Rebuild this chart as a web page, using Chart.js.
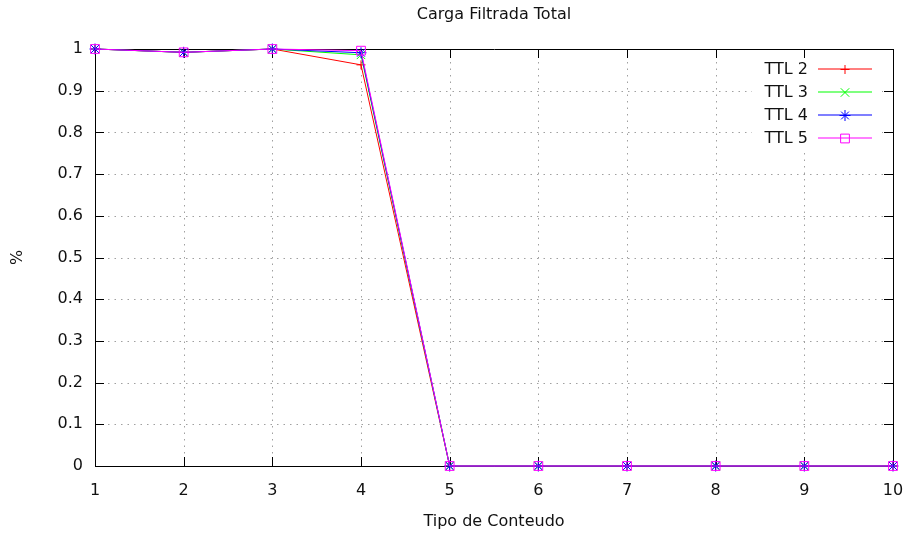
<!DOCTYPE html>
<html>
<head>
<meta charset="utf-8">
<script src="https://cdn.jsdelivr.net/npm/chart.js@4.4.0/dist/chart.umd.min.js"></script>
<style>
html,body{margin:0;padding:0;background:#fff;}
#wrap{width:907px;height:535px;position:relative;}
</style>
</head>
<body>
<div id="wrap"><canvas id="c" width="907" height="535"></canvas></div>
<script>
const categories = [1, 2, 3, 4, 5, 6, 7, 8, 9, 10];
const ttl2 = [1, 0.992, 1, 0.962, 0, 0, 0, 0, 0, 0];
const ttl3 = [1, 0.992, 1, 0.986, 0, 0, 0, 0, 0, 0];
const ttl4 = [1, 0.992, 1, 0.991, 0, 0, 0, 0, 0, 0];
const ttl5 = [1, 0.992, 1, 0.996, 0, 0, 0, 0, 0, 0];
const seriesNames = ['TTL 2', 'TTL 3', 'TTL 4', 'TTL 5'];
const yTicks = [0, 0.1, 0.2, 0.3, 0.4, 0.5, 0.6, 0.7, 0.8, 0.9, 1];
const xTicks = [1, 2, 3, 4, 5, 6, 7, 8, 9, 10];
const titleText = 'Carga Filtrada Total';
const xTitle = 'Tipo de Conteudo';
const yTitle = '%';

const FONT = '"DejaVu Sans", sans-serif';
const toPts = arr => arr.map((v, i) => ({x: categories[i], y: v}));

const styles = [
  {color: '#ff0000', pointStyle: 'cross', radius: 4.5},
  {color: '#00ff00', pointStyle: 'crossRot', radius: 6},
  {color: '#0000ff', pointStyle: 'star', radius: 5.5},
  {color: '#ff00ff', pointStyle: 'rect', radius: 6.2}
];
const allSeries = [ttl2, ttl3, ttl4, ttl5];

const datasets = allSeries.map((s, i) => ({
  label: seriesNames[i],
  data: toPts(s),
  borderColor: styles[i].color,
  backgroundColor: 'rgba(0,0,0,0)',
  borderWidth: 1,
  pointStyle: styles[i].pointStyle,
  pointRadius: styles[i].radius,
  pointHoverRadius: styles[i].radius,
  pointBorderWidth: 1,
  pointBorderColor: styles[i].color,
  pointBackgroundColor: 'rgba(0,0,0,0)',
  tension: 0,
  clip: false,
  order: 4 - i
}));

const framePlugin = {
  id: 'frame',
  beforeDatasetsDraw(chart) {
    const ctx = chart.ctx;
    const a = chart.chartArea;
    const xs = chart.scales.x, ys = chart.scales.y;
    ctx.save();
    // dotted grid
    ctx.strokeStyle = '#a0a0a0';
    ctx.lineWidth = 1;
    ctx.setLineDash([1.5, 5]);
    yTicks.forEach(v => {
      if (v === 0 || v === 1) return;
      const y = Math.round(ys.getPixelForValue(v)) + 0.5;
      ctx.beginPath(); ctx.moveTo(a.left, y); ctx.lineTo(a.right, y); ctx.stroke();
    });
    xTicks.forEach(v => {
      if (v === 1 || v === 10) return;
      const x = Math.round(xs.getPixelForValue(v)) + 0.5;
      ctx.beginPath(); ctx.moveTo(x, a.top); ctx.lineTo(x, a.bottom); ctx.stroke();
    });
    ctx.setLineDash([]);
    // white key box (grid hidden behind legend)
    ctx.fillStyle = '#fff';
    ctx.fillRect(752, 59, 130, 91);
    // ticks (inward, mirrored)
    ctx.strokeStyle = '#000';
    const tl = 9;
    yTicks.forEach(v => {
      const y = Math.round(ys.getPixelForValue(v)) + 0.5;
      ctx.beginPath();
      ctx.moveTo(a.left, y); ctx.lineTo(a.left + tl, y);
      ctx.moveTo(a.right, y); ctx.lineTo(a.right - tl, y);
      ctx.stroke();
    });
    xTicks.forEach(v => {
      const x = Math.round(xs.getPixelForValue(v)) + 0.5;
      ctx.beginPath();
      ctx.moveTo(x, a.bottom); ctx.lineTo(x, a.bottom - tl);
      ctx.moveTo(x, a.top); ctx.lineTo(x, a.top + tl);
      ctx.stroke();
    });
    // border
    ctx.beginPath();
    ctx.rect(Math.round(a.left) + 0.5, Math.round(a.top) + 0.5,
             Math.round(a.right - a.left), Math.round(a.bottom - a.top));
    ctx.stroke();
    ctx.restore();
  },
  afterDraw(chart) {
    const ctx = chart.ctx;
    const a = chart.chartArea;
    ctx.save();
    ctx.fillStyle = '#111';
    ctx.font = '16px ' + FONT;
    ctx.textAlign = 'center';
    ctx.textBaseline = 'middle';
    ctx.fillText(titleText, (a.left + a.right) / 2, 15);
    ctx.fillText(xTitle, (a.left + a.right) / 2, 522);
    ctx.save();
    ctx.translate(18, (a.top + a.bottom) / 2);
    ctx.rotate(-Math.PI / 2);
    ctx.fillText(yTitle, 0, 0);
    ctx.restore();
    // legend
    const textRight = 808, lineL = 818, lineR = 872, y0 = 69, dy = 23;
    chart.data.datasets.forEach((ds, i) => {
      const y = y0 + i * dy;
      ctx.fillStyle = '#111';
      ctx.textAlign = 'right';
      ctx.textBaseline = 'middle';
      ctx.font = '16px ' + FONT;
      ctx.fillText(ds.label, textRight, y + 1);
      ctx.strokeStyle = ds.borderColor;
      ctx.lineWidth = 1.2;
      ctx.beginPath();
      ctx.moveTo(lineL, y); ctx.lineTo(lineR, y);
      ctx.stroke();
      ctx.lineWidth = 1;
      ctx.fillStyle = 'rgba(0,0,0,0)';
      Chart.helpers.drawPoint(ctx, {
        pointStyle: ds.pointStyle, radius: ds.pointRadius, borderWidth: 1, rotation: 0
      }, (lineL + lineR) / 2, y + 0.5);
    });
    ctx.restore();
  }
};

new Chart(document.getElementById('c'), {
  type: 'line',
  data: {datasets},
  options: {
    responsive: false,
    animation: false,
    events: [],
    layout: {padding: {left: 0, right: 14, top: 49, bottom: 0}},
    plugins: {legend: {display: false}, title: {display: false}, tooltip: {enabled: false}},
    scales: {
      x: {
        type: 'linear',
        min: 1, max: 10,
        afterFit(s) { s.height = 69; s.paddingLeft = 0; s.paddingRight = 0; },
        afterBuildTicks(s) { s.ticks = xTicks.map(v => ({value: v})); },
        grid: {display: false, drawTicks: false},
        border: {display: false},
        ticks: {color: '#111', font: {family: FONT, size: 16}, padding: 15, maxRotation: 0, autoSkip: false,
                callback: v => String(v)}
      },
      y: {
        type: 'linear',
        min: 0, max: 1,
        afterFit(s) { s.width = 95; s.paddingTop = 0; s.paddingBottom = 0; },
        afterBuildTicks(s) { s.ticks = yTicks.map(v => ({value: v})); },
        grid: {display: false, drawTicks: false},
        border: {display: false},
        ticks: {color: '#111', font: {family: FONT, size: 16}, padding: 12, autoSkip: false,
                callback: v => String(Math.round(v * 10) / 10)}
      }
    }
  },
  plugins: [framePlugin]
});
</script>
</body>
</html>
